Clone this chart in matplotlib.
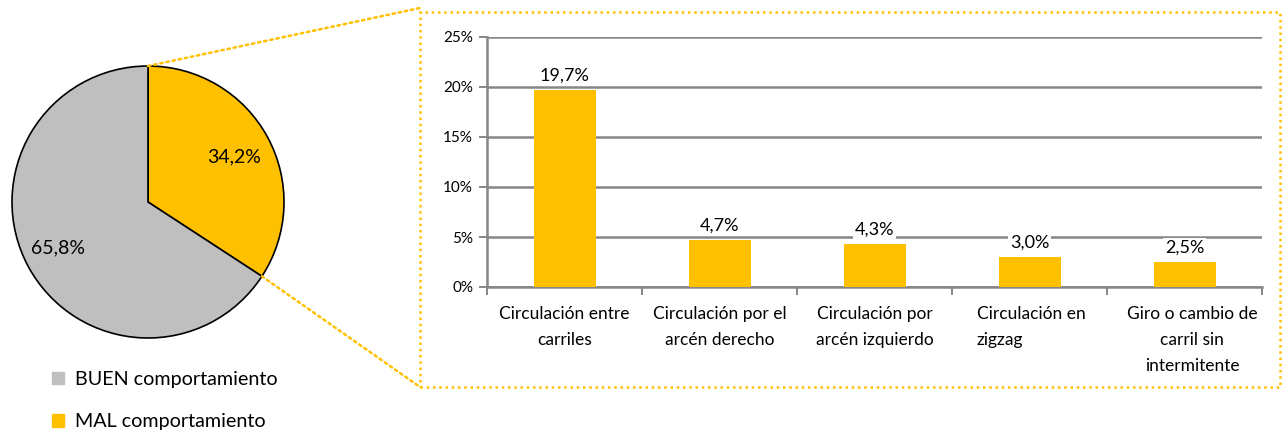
import matplotlib
matplotlib.use('Agg')
import matplotlib.pyplot as plt
import numpy as np
from matplotlib.patches import Patch, Rectangle, ConnectionPatch
from matplotlib.transforms import blended_transform_factory

plt.rcParams['font.family'] = ['Lato', 'DejaVu Sans']

# pie data
pie_labels = ['MAL comportamiento', 'BUEN comportamiento']
pie_values = [34.2, 65.8]
pie_text = ['34,2%', '65,8%']

# bar data
categories = ['Circulación entre\ncarriles',
              'Circulación por el\narcén derecho',
              'Circulación por\narcén izquierdo',
              'Circulación en\nzigzag',
              'Giro o cambio de\ncarril sin\nintermitente']
values = [19.7, 4.7, 4.3, 3.0, 2.5]
value_text = ['19,7%', '4,7%', '4,3%', '3,0%', '2,5%']
yticks = [0, 5, 10, 15, 20, 25]

YELLOW = '#FFC000'
GREY = '#BFBFBF'
GRID = '#868686'

W, H = 1283, 430
fig = plt.figure(figsize=(W / 100, H / 100), dpi=100)

def px(x0, y0, x1, y1):
    # pixel box (top-left origin) -> figure fraction rect
    return [x0 / W, 1 - y1 / H, (x1 - x0) / W, (y1 - y0) / H]

# ---- pie ----
ax_pie = fig.add_axes(px(12, 66, 284, 338))
wedges, _ = ax_pie.pie(pie_values, colors=[YELLOW, GREY], startangle=90, counterclock=False,
                       wedgeprops=dict(edgecolor='black', linewidth=1.2))
ax_pie.set_xlim(-1, 1)
ax_pie.set_ylim(-1, 1)
ax_pie.set_aspect('equal')
ax_pie.axis('off')
ax_pie.text(0.63, 0.33, pie_text[0], fontsize=14, ha='center', va='center')
ax_pie.text(-0.66, -0.34, pie_text[1], fontsize=14, ha='center', va='center')

fig.legend(handles=[Patch(color=GREY), Patch(color=YELLOW)], labels=pie_labels[::-1],
           loc='upper left', bbox_to_anchor=(42 / W, 1 - 361 / H), frameon=False,
           fontsize=14.2, handlelength=0.6, handleheight=0.6, handletextpad=0.55,
           labelspacing=1.3, borderpad=0)

# ---- bars ----
ax = fig.add_axes(px(487, 37, 1262, 287))
x = list(range(len(values)))
ax.bar(x, values, width=0.4, color=YELLOW, zorder=3)
ax.set_xlim(-0.5, len(values) - 0.5)
ax.set_ylim(0, 25)
ax.set_yticks(yticks)
ax.set_yticklabels([f'{t}%' for t in yticks], fontsize=11)
ax.yaxis.grid(True, color=GRID, linewidth=1.8, zorder=0)
ax.set_axisbelow(True)
ax.set_xticks([i - 0.5 for i in range(len(values) + 1)])
ax.set_xticklabels([])
ax.tick_params(axis='x', length=6, width=1.4, color=GRID)
ax.tick_params(axis='y', length=6, width=1.4, color=GRID, pad=4)
for s in ['top', 'right']:
    ax.spines[s].set_visible(False)
for s in ['left', 'bottom']:
    ax.spines[s].set_color(GRID)
    ax.spines[s].set_linewidth(1.8)

for i, (v, t) in enumerate(zip(values, value_text)):
    ax.text(i, v + 0.6, t, ha='center', va='bottom', fontsize=13, zorder=4,
            bbox=dict(facecolor='white', edgecolor='none', pad=1.5))

trans = blended_transform_factory(ax.transData, ax.transAxes)
for i, c in enumerate(categories):
    if i == 3:
        ax.text(2.66, -0.077, c, transform=trans, ha='left', va='top', fontsize=12.5,
                linespacing=1.75)
    else:
        ax.text(i + (0.05 if i == 4 else 0), -0.077, c, transform=trans, ha='center',
                va='top', fontsize=12.5, linespacing=1.75, multialignment='center')

# ---- dotted zoom box and connectors ----
bx0, by0, bx1, by1 = 420, 12, 1280, 387
fig.add_artist(Rectangle((bx0 / W, 1 - by1 / H), (bx1 - bx0) / W, (by1 - by0) / H,
                         transform=fig.transFigure, fill=False, edgecolor=YELLOW,
                         linestyle=(0, (1, 1.5)), linewidth=1.8))
end_ang = np.deg2rad(90 - pie_values[0] / 100 * 360)
for pa, pb in [((0, 1), (bx0 / W, 1 - 8 / H)),
               ((np.cos(end_ang), np.sin(end_ang)), (bx0 / W, 1 - by1 / H))]:
    fig.add_artist(ConnectionPatch(xyA=pa, coordsA=ax_pie.transData, xyB=pb,
                                   coordsB=fig.transFigure, color=YELLOW,
                                   linestyle=(0, (1, 1.5)), linewidth=1.8))

fig.savefig('out.png', dpi=100)
